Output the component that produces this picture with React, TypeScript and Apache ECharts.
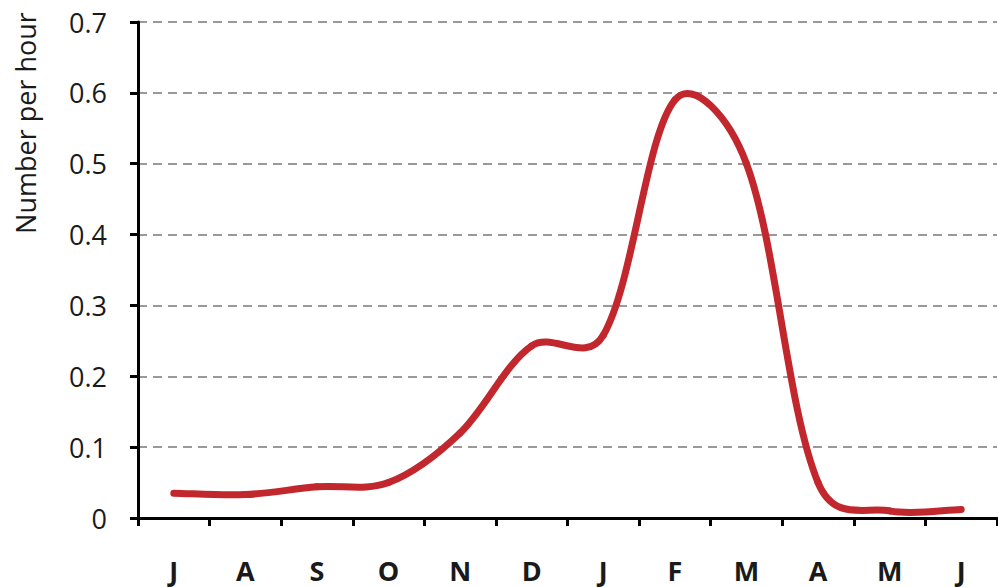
import React, { useEffect, useRef } from "react";
import * as echarts from "echarts";

const months = ["J", "A", "S", "O", "N", "D", "J", "F", "M", "A", "M", "J"];
const numberPerHour = [0.035, 0.033, 0.044, 0.05, 0.12, 0.243, 0.258, 0.59, 0.5, 0.05, 0.01, 0.012];
const yTicks = { min: 0, max: 0.7, interval: 0.1 };

export default function App() {
  const ref = useRef<HTMLDivElement>(null);
  useEffect(() => {
    const chart = echarts.init(ref.current!, null, { renderer: "svg" });
    const n = numberPerHour.length;
    chart.setOption({
      animation: false,
      backgroundColor: "#ffffff",
      grid: { left: 138, right: 1, top: 22, bottom: 69 },
      xAxis: {
        type: "category",
        data: months,
        boundaryGap: true,
        axisLine: { lineStyle: { color: "#000", width: 3 } },
        axisTick: { show: true, length: 8, lineStyle: { color: "#000", width: 3 } },
        axisLabel: {
          margin: 37,
          fontSize: 27,
          lineHeight: 30,
          fontWeight: "bold",
          color: "#1a1a1a",
          fontFamily: "Open Sans",
        },
      },
      yAxis: {
        type: "value",
        min: yTicks.min,
        max: yTicks.max,
        interval: yTicks.interval,
        axisLine: { show: true, lineStyle: { color: "#000", width: 3 } },
        axisTick: { show: true, length: 8, lineStyle: { color: "#000", width: 3 } },
        axisLabel: {
          margin: 31,
          fontSize: 27,
          color: "#1a1a1a",
          fontFamily: "Open Sans",
          formatter: (v: number) => (v === 0 ? "0" : v.toFixed(1)),
        },
        splitLine: { show: true, lineStyle: { color: "#999", width: 2, type: [9, 6] } },
      },
      graphic: [
        {
          type: "text",
          x: 25,
          y: 123,
          rotation: Math.PI / 2,
          style: {
            text: "Number per hour",
            fontSize: 27,
            fontFamily: "Open Sans",
            fill: "#1a1a1a",
            align: "center",
            verticalAlign: "middle",
          },
        },
      ],
      series: [
        {
          type: "custom",
          clip: false,
          encode: { x: 0, y: 1 },
          data: numberPerHour.map((v, i) => [i, v]),
          renderItem: (params: any, api: any) => {
            const i = params.dataIndex;
            if (i >= n - 1) return null;
            const P = (k: number) => {
              const kk = Math.max(0, Math.min(n - 1, k));
              return api.coord([kk, numberPerHour[kk]]);
            };
            const dist = (a: number[], b: number[]) => Math.hypot(a[0] - b[0], a[1] - b[1]);
            // smoothing: blend of uniform Catmull-Rom and segment-length-weighted tangents
            const cp = (k: number, dir: 1 | -1) => {
              const pk = P(k);
              const pPrev = P(k - 1);
              const pNext = P(k + 1);
              const dPrev = dist(pPrev, pk);
              const dNext = dist(pk, pNext);
              const tot = dPrev + dNext || 1;
              const vx = pNext[0] - pPrev[0];
              const vy = pNext[1] - pPrev[1];
              const w = (dir === 1 ? dNext : dPrev) / tot;
              const ratio = (0.5 * 0.5 + 0.5 * w) / 3;
              return [pk[0] + dir * vx * ratio, pk[1] + dir * vy * ratio];
            };
            const p1 = P(i);
            const p2 = P(i + 1);
            const c1 = cp(i, 1);
            const c2 = cp(i + 1, -1);
            return {
              type: "bezierCurve",
              shape: {
                x1: p1[0],
                y1: p1[1],
                cpx1: c1[0],
                cpy1: c1[1],
                cpx2: c2[0],
                cpy2: c2[1],
                x2: p2[0],
                y2: p2[1],
              },
              style: { stroke: "#C1272D", lineWidth: 7, lineCap: "round", fill: null },
            };
          },
        },
      ],
    });
    return () => chart.dispose();
  }, []);
  return <div ref={ref} style={{ width: 998, height: 587, position: "absolute", left: 0, top: 0 }} />;
}
